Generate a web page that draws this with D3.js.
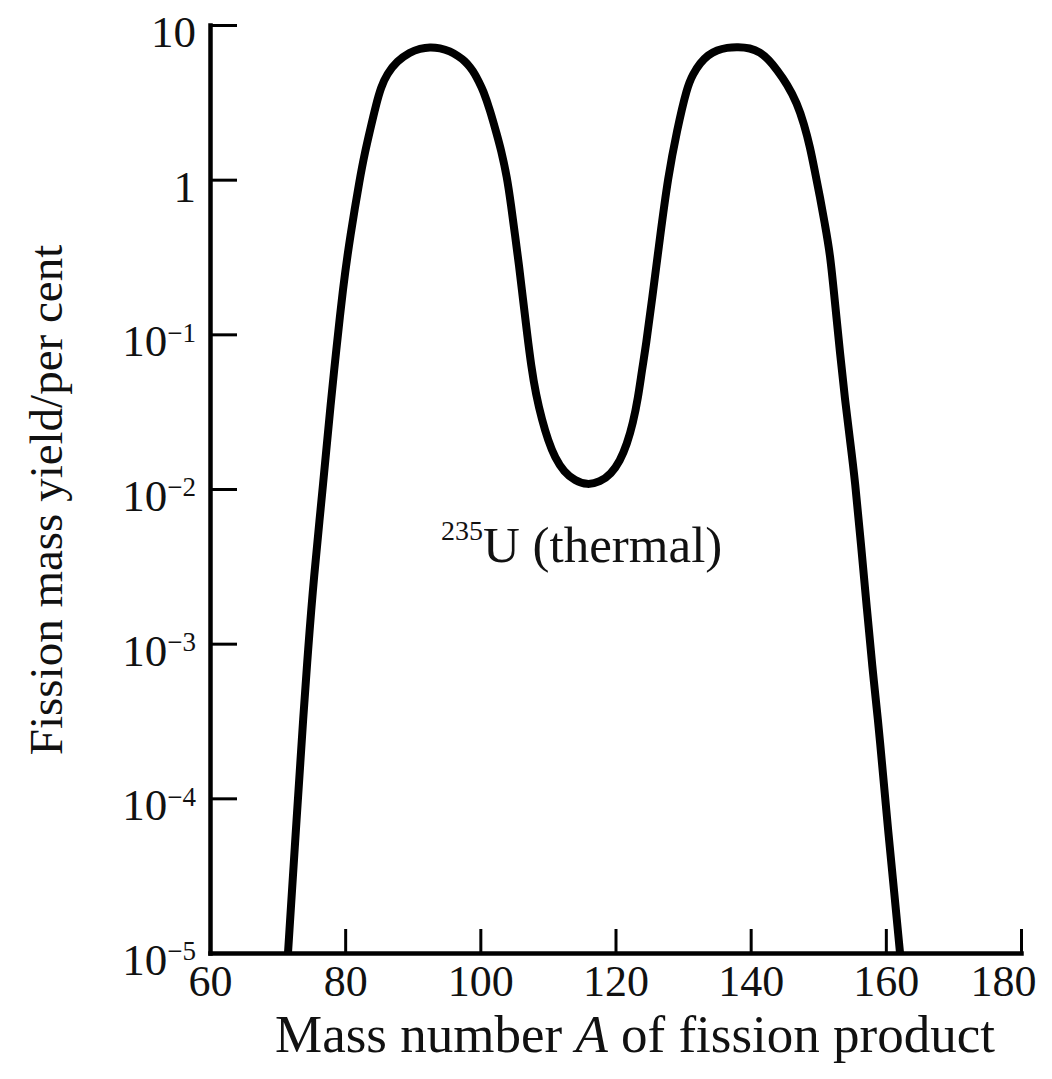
<!DOCTYPE html>
<html>
<head>
<meta charset="utf-8">
<script src="https://cdn.jsdelivr.net/npm/d3@7"></script>
<style>
  body { margin: 0; background: #fff; }
  text { font-family: "Liberation Serif", "Times New Roman", serif; fill: #111; }
</style>
</head>
<body>
<div id="chart"></div>
<script>
// Data (mass number A, yield in per cent)
var massNumber = [71.54, 72.87, 73.84, 74.50, 75.32, 76.80, 77.90, 78.64, 79.68, 80.72,
  82.20, 82.94, 83.68, 84.56, 85.30, 86.19, 87.67, 89.59, 91.07, 92.55,
  94.03, 95.51, 96.70, 97.73, 98.47, 99.21, 99.80, 100.40, 101.43, 102.47,
  103.06, 103.95, 104.54, 105.13, 105.72, 106.32, 106.91, 107.50, 108.24, 109.13,
  110.01, 111.05, 112.38, 114.01, 115.79, 117.71, 119.34, 120.67, 121.70, 122.59,
  123.33, 123.92, 124.52, 125.40, 126.59, 127.77, 129.10, 130.58, 131.47, 132.51,
  133.69, 135.02, 136.50, 138.13, 139.91, 141.38, 142.72, 143.90, 145.38, 146.86,
  147.90, 148.78, 149.52, 150.26, 151.00, 151.74, 152.48, 153.22, 153.96, 154.70,
  155.44, 156.33, 157.22, 157.96, 158.85, 159.59, 160.33, 161.21, 162.10];
var yieldPct = [0.00001, 0.0000804, 0.000356, 0.000897, 0.00258, 0.0114, 0.0376, 0.0757, 0.202, 0.426,
  1.04, 1.51, 2.09, 3.04, 3.97, 4.82, 5.85, 6.69, 7.05, 7.21,
  7.10, 6.79, 6.30, 5.85, 5.35, 4.82, 4.28, 3.80, 2.82, 1.94,
  1.56, 1.04, 0.686, 0.439, 0.281, 0.167, 0.102, 0.0633, 0.0405, 0.0279,
  0.0207, 0.0159, 0.0129, 0.0113, 0.0106, 0.0111, 0.0125, 0.0152, 0.0195, 0.0267,
  0.0387, 0.0588, 0.0853, 0.167, 0.426, 1.04, 2.09, 3.97, 4.82, 5.68,
  6.40, 6.89, 7.15, 7.21, 7.10, 6.69, 5.94, 5.12, 4.15, 3.13,
  2.29, 1.63, 1.12, 0.773, 0.509, 0.336, 0.160, 0.0757, 0.0376, 0.0207,
  0.0114, 0.00435, 0.00165, 0.000728, 0.000321, 0.000142, 0.0000624, 0.0000255, 0.00001];

var xTicks = [60, 80, 100, 120, 140, 160, 180];
var yTicks = [10, 1, 1e-1, 1e-2, 1e-3, 1e-4, 1e-5];

var xTitle = "Mass number ";
var xTitleItalic = "A";
var xTitleEnd = " of fission product";
var yTitle = "Fission mass yield/per cent";
var curveNote = ["235", "U (thermal)"];

var svgWidth = 1052;
var svgHeight = 1079;

var svg = d3.select("#chart")
  .append("svg")
  .attr("width", svgWidth)
  .attr("height", svgHeight);

// scales
var x = d3.scaleLinear().domain([60, 180]).range([210, 1021]);
var y = d3.scaleLog().domain([1e-5, 10]).range([953, 25]);

// x axis, ticks pointing up
var xAxis = d3.axisBottom(x)
  .tickValues(xTicks)
  .tickSizeInner(-24)
  .tickSizeOuter(0)
  .tickPadding(12)
  .tickFormat(d3.format("d"));

var gx = svg.append("g")
  .attr("transform", "translate(0," + y(1e-5) + ")")
  .call(xAxis);

gx.select(".domain").attr("stroke", "#000").attr("stroke-width", 4.5).attr("stroke-linecap", "square");
gx.selectAll(".tick line").attr("stroke", "#000").attr("stroke-width", 3);
gx.selectAll(".tick text")
  .attr("fill", "#111")
  .attr("dx", function(d) { return d === 180 ? -18 : 0; })
  .style("font-size", "44px")
  .style("font-family", "'Liberation Serif', serif");

// y axis, ticks pointing right
var yAxis = d3.axisLeft(y)
  .tickValues(yTicks)
  .tickSizeInner(-27)
  .tickSizeOuter(0)
  .tickPadding(14)
  .tickFormat("");

var gy = svg.append("g")
  .attr("transform", "translate(" + x(60) + ",0)")
  .call(yAxis);

gy.select(".domain").attr("stroke", "#000").attr("stroke-width", 4.5).attr("stroke-linecap", "square");
gy.selectAll(".tick line").attr("stroke", "#000").attr("stroke-width", 3);

// tick labels as 10 with superscript exponent
gy.selectAll(".tick text")
  .attr("fill", "#111")
  .attr("dy", "0.48em")
  .style("font-size", "45px")
  .style("font-family", "'Liberation Serif', serif")
  .each(function(d) {
    var t = d3.select(this);
    var e = Math.round(Math.log10(d));
    if (e >= 0) {
      t.text(String(d));
    } else {
      t.append("tspan").text("10");
      t.append("tspan")
        .attr("dy", "-0.55em")
        .style("font-size", "27px")
        .text("\u2212" + (-e));
    }
  });

// the curve (smoothed through the read-off points)
var line = d3.line()
  .x(function(d, i) { return x(massNumber[i]); })
  .y(function(d, i) { return y(yieldPct[i]); })
  .curve(d3.curveBasis);

svg.append("path")
  .datum(massNumber)
  .attr("d", line)
  .attr("fill", "none")
  .attr("stroke", "#000")
  .attr("stroke-width", 8)
  .attr("stroke-linejoin", "round");

// label on the curve
var note = svg.append("text")
  .attr("x", 441)
  .attr("y", 552)
  .style("font-size", "51px");
note.append("tspan")
  .attr("dy", "-0.42em")
  .style("font-size", "28px")
  .text(curveNote[0]);
note.append("tspan")
  .attr("dy", "0.42em")
  .text(curveNote[1]);

// axis titles
var xt = svg.append("text")
  .attr("x", 635)
  .attr("y", 1052)
  .attr("text-anchor", "middle")
  .style("font-size", "53px");
xt.append("tspan").text(xTitle);
xt.append("tspan").style("font-style", "italic").text(xTitleItalic);
xt.append("tspan").text(xTitleEnd);

svg.append("text")
  .attr("transform", "translate(62,500) rotate(-90)")
  .attr("text-anchor", "middle")
  .style("font-size", "47px")
  .text(yTitle);
</script>
</body>
</html>
